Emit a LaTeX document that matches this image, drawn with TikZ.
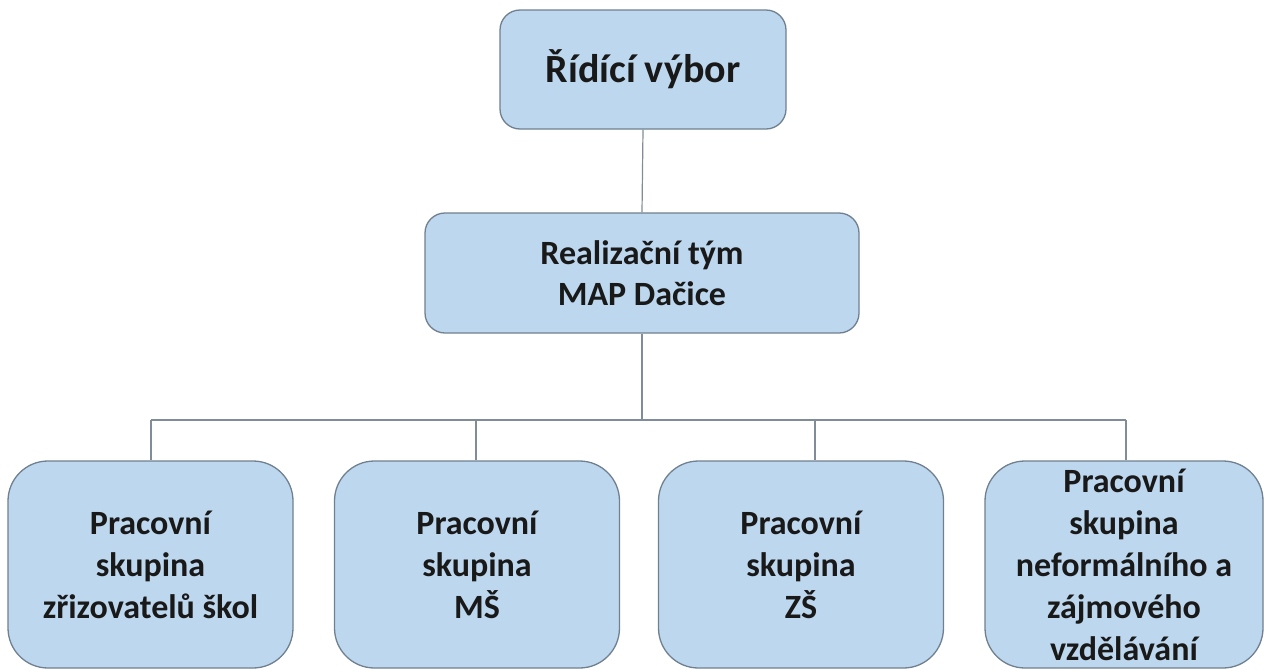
\documentclass[tikz,border=0pt]{standalone}
\usepackage{fontspec}
\setmainfont{Carlito}
\usepackage{xcolor}
\definecolor{boxfill}{RGB}{189,215,238}
\definecolor{boxline}{RGB}{112,128,144}
\definecolor{wire}{RGB}{128,140,152}

\begin{document}
\begin{tikzpicture}[x=1pt,y=-1pt,
    box/.style={draw=boxline, line width=1.3pt, fill=boxfill, rectangle,
        inner sep=0pt, align=center, text=black!90},
    topbox/.style={box, rounded corners=20pt, minimum width=286pt, minimum height=119pt,
        font=\fontsize{40}{48}\selectfont\bfseries},
    midbox/.style={box, rounded corners=20pt, minimum width=434pt, minimum height=120pt,
        font=\fontsize{34}{41}\selectfont\bfseries},
    groupbox/.style={box, rounded corners=40pt, minimum width=285pt, minimum height=207pt,
        font=\fontsize{34}{42}\selectfont\bfseries},
    wire/.style={draw=wire, line width=1.2pt}]

    % Fix the page size
    \useasboundingbox (0,0) rectangle (1264,670);

    % Draw the top two levels
    \node[topbox] (ridici) at (643,69.5) {Řídící výbor};
    \node[midbox] (realizace) at (642,273) {Realizační tým\\MAP Dačice};

    % Draw the working groups
    \node[groupbox] (zrizovatele) at (150.5,564.5) {Pracovní\\skupina\\zřizovatelů škol};
    \node[groupbox] (ms) at (477,564.5) {Pracovní\\skupina\\MŠ};
    \node[groupbox] (zs) at (801,564.5) {Pracovní\\skupina\\ZŠ};
    \node[groupbox, minimum width=278pt] (neformalni) at (1124,564.5)
        {Pracovní\\skupina\\neformálního a\\zájmového\\vzdělávání};

    % Junction points on the bus line
    \coordinate (bus) at (642,420);
    \coordinate (j1) at (151,420);
    \coordinate (j2) at (476,420);
    \coordinate (j3) at (815,420);
    \coordinate (j4) at (1126,420);

    % Draw the connectors
    \draw[wire] (ridici.south) -- (realizace.north);
    \draw[wire] (realizace.south) -- (bus);
    \draw[wire] (j1) -- (j4);
    \draw[wire] (j1) -- (j1 |- zrizovatele.north);
    \draw[wire] (j2) -- (j2 |- ms.north);
    \draw[wire] (j3) -- (j3 |- zs.north);
    \draw[wire] (j4) -- (j4 |- neformalni.north);

\end{tikzpicture}
\end{document}
